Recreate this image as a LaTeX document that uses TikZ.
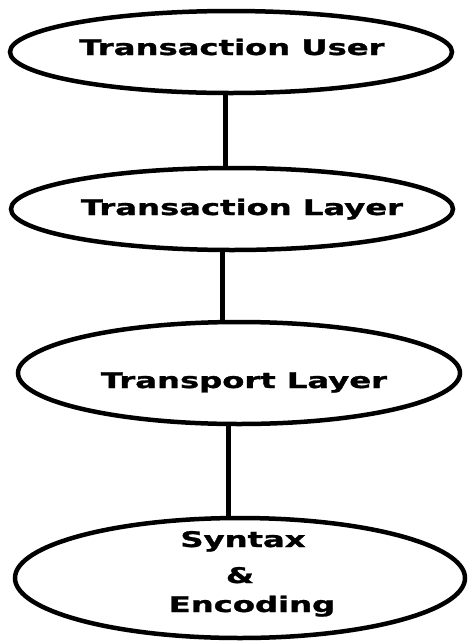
\documentclass[tikz,border=0pt]{standalone}
\usepackage{fontspec}
\usepackage{graphicx}
\usetikzlibrary{shapes.geometric}
\newfontfamily\lblfont{DejaVu Sans}[BoldFont={DejaVu Sans Bold},BoldFeatures={FakeBold=1.2}]
\newcommand{\wide}[1]{\scalebox{1.5}[1]{#1}}
\begin{document}
\begin{tikzpicture}[x=1pt,y=-1pt,
  layer/.style={draw=black, line width=4.5pt, ellipse, inner sep=0pt, fill=white},
  lbl/.style={anchor=base, inner sep=0pt, font=\lblfont\bfseries\fontsize{21.5}{25}\selectfont},
  link/.style={draw=black, line width=5pt}]
  \useasboundingbox[fill=white] (0,0) rectangle (470,641);

  % protocol layers
  \node[layer, minimum width=442pt, minimum height=82pt]  (user)   at (231,52)  {};
  \node[layer, minimum width=442pt, minimum height=82pt]  (trans)  at (232,209) {};
  \node[layer, minimum width=442pt, minimum height=102pt] (trport) at (239,373) {};
  \node[layer, minimum width=450pt, minimum height=120pt] (syntax) at (240,578) {};

  % links between neighbouring layers
  \coordinate (xa) at (225,0);
  \coordinate (xb) at (222,0);
  \coordinate (xc) at (228,0);
  \draw[link] (user.south -| xa) -- (trans.north -| xa);
  \draw[link] (trans.south -| xb) -- (trport.north -| xb);
  \draw[link] (trport.south -| xc) -- (syntax.north -| xc);

  % labels
  \node[lbl] (tuser)  at (232,55)  {\wide{Transaction User}};
  \node[lbl] (ttrans) at (242,215) {\wide{Transaction Layer}};
  \node[lbl] (ttport) at (244,388) {\wide{Transport Layer}};
  \node[lbl] (tsyn)   at (243,547) {\wide{Syntax}};
  \node[lbl] (tamp)   at (240,583) {\wide{\&}};
  \node[lbl] (tenc)   at (252,612) {\wide{Encoding}};
\end{tikzpicture}
\end{document}
